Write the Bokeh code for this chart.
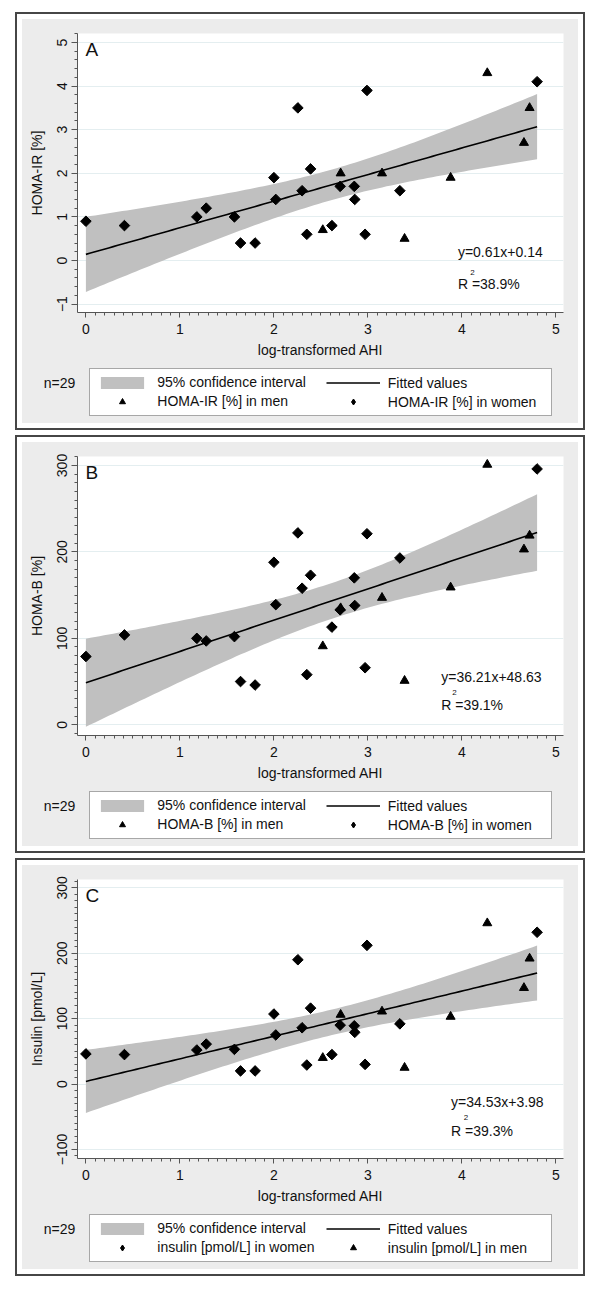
import numpy as np
from bokeh.plotting import figure
from bokeh.models import Range1d, SingleIntervalTicker, Legend, LegendItem, Label
from bokeh.layouts import column
from bokeh.embed import file_html
from bokeh.resources import INLINE

FONT = "Liberation Sans"

# ---------------- data ----------------
women_x = [0.00, 0.41, 1.18, 1.28, 1.58, 1.645, 1.80, 2.00, 2.02, 2.255, 2.30,
           2.35, 2.39, 2.617, 2.705, 2.855, 2.86, 2.97, 2.99, 3.34, 4.80]
men_x = [2.52, 2.71, 3.15, 3.39, 3.88, 4.27, 4.66, 4.72]

homa_ir_women = [0.9, 0.8, 1.0, 1.2, 1.0, 0.4, 0.4, 1.9, 1.4, 3.5, 1.6,
                 0.6, 2.1, 0.8, 1.7, 1.7, 1.4, 0.6, 3.9, 1.6, 4.1]
homa_ir_men = [0.7, 2.0, 2.0, 0.5, 1.9, 4.3, 2.7, 3.5]

homa_b_women = [79, 104, 100, 97, 102, 50, 46, 188, 139, 222, 158,
                58, 173, 113, 133, 170, 138, 66, 221, 193, 296]
homa_b_men = [91, 135, 147, 51, 159, 301, 203, 219]

insulin_women = [46, 45, 52, 61, 53, 20, 20, 107, 75, 190, 86,
                 29, 116, 45, 90, 89, 79, 30, 212, 92, 232]
insulin_men = [40, 106, 111, 25, 103, 246, 147, 192]

fit_slopes = [0.61, 36.21, 34.53]
fit_intercepts = [0.14, 48.63, 3.98]
r2_texts = ["38.9%", "39.1%", "39.3%"]
panel_letters = ["A", "B", "C"]
y_titles = ["HOMA-IR [%]", "HOMA-B [%]", "Insulin [pmol/L]"]
men_labels = ["HOMA-IR [%] in men", "HOMA-B [%] in men", "insulin [pmol/L] in men"]
women_labels = ["HOMA-IR [%] in women", "HOMA-B [%] in women", "insulin [pmol/L] in women"]
x_title = "log-transformed AHI"
n_text = "n=29"
T_CRIT = 2.052  # t(0.975, df=27)

# ---------------- layout ----------------
W, H_TOTAL = 556, 404
H_PLOT = 345
H_LEG = H_TOTAL - H_PLOT
BL, BR, BT = 55, 15, 14
FW, FH = W - BL - BR, 279
BB = H_PLOT - BT - FH
X_START, X_PPU = -0.0894, 94.0
Y_TOP = [5.206, 310.4, 312.7]
Y_PPU = [43.6, 0.8643, 0.654]
Y_TICK = [1, 100, 100]
Y_MINOR = [5, 10, 10]

# label offsets in px from frame top-left
EQ_POS = [(380.4, 218.4), (363.7, 220.7), (373.5, 222.3)]
R_POS = [(380.4, 250.7), (363.7, 248.0), (373.5, 251.7)]
SUP_POS = [(392.7, 239.4), (374.7, 235.7), (386.2, 238.3)]

TXT = "#111111"
AX = "#555555"
GREY = "#ececec"


def style_legend(lg):
    lg.orientation = "vertical"
    lg.glyph_width = 54
    lg.glyph_height = 15
    lg.label_height = 17
    lg.label_standoff = 8
    lg.spacing = 2
    lg.padding = 5
    lg.margin = 0
    lg.label_text_font = FONT
    lg.label_text_font_size = "14px"
    lg.label_text_color = TXT
    lg.label_text_baseline = "middle"


def make_panel(i, wy, my, women_first_in_legend):
    ppu = Y_PPU[i]
    y_end = Y_TOP[i]
    y_start = y_end - FH / ppu

    def dx(px):
        return X_START + px / X_PPU

    def dy(py):
        return y_end - py / ppu

    p = figure(width=W, height=H_PLOT, output_backend="svg", toolbar_location=None,
               x_range=Range1d(X_START, X_START + FW / X_PPU),
               y_range=Range1d(y_start, y_end),
               min_border_left=BL, min_border_right=BR,
               min_border_top=BT, min_border_bottom=BB)
    p.frame_align = False
    p.border_fill_color = GREY
    p.background_fill_color = "white"
    p.outline_line_color = None

    # axes
    p.xaxis.ticker = SingleIntervalTicker(interval=1, num_minor_ticks=10)
    p.yaxis.ticker = SingleIntervalTicker(interval=Y_TICK[i], num_minor_ticks=Y_MINOR[i])
    for ax in (p.xaxis[0], p.yaxis[0]):
        ax.axis_line_color = AX
        ax.major_tick_line_color = AX
        ax.minor_tick_line_color = AX
        ax.major_tick_in = 0
        ax.minor_tick_in = 0
        ax.minor_tick_out = 3
        ax.major_label_text_font = FONT
        ax.major_label_text_font_size = "14px"
        ax.major_label_text_color = TXT
        ax.axis_label_text_font = FONT
        ax.axis_label_text_font_size = "14px"
        ax.axis_label_text_font_style = "normal"
        ax.axis_label_text_color = TXT
    p.xaxis.major_tick_out = 5
    p.yaxis.major_tick_out = 6
    p.xaxis.major_label_standoff = 6
    p.yaxis.major_label_standoff = 4
    p.xaxis.axis_label_standoff = 5
    p.yaxis.axis_label_standoff = 10
    p.yaxis.major_label_orientation = "vertical"
    p.xaxis.axis_label = x_title
    p.yaxis.axis_label = y_titles[i]
    p.xgrid.visible = False
    p.ygrid.grid_line_color = "#e4eef0"
    p.ygrid.grid_line_width = 1

    # fit + CI
    slope, icpt = fit_slopes[i], fit_intercepts[i]
    xa = np.array(women_x + men_x, dtype=float)
    ya = np.array(wy + my, dtype=float)
    n = len(xa)
    resid = ya - (icpt + slope * xa)
    s = np.sqrt(np.sum(resid ** 2) / (n - 2))
    xbar = xa.mean()
    sxx = np.sum((xa - xbar) ** 2)
    xg = np.linspace(xa.min(), xa.max(), 100)
    yg = icpt + slope * xg
    se = s * np.sqrt(1.0 / n + (xg - xbar) ** 2 / sxx)
    band_style = dict(fill_color="#c0c0c0", fill_alpha=1.0)
    line_style = dict(line_color="black", line_width=1.6)
    tri_style = dict(marker="triangle", size=9, fill_color="black", line_color="black")
    dia_style = dict(marker="square", angle=np.pi / 4, size=7.5,
                     fill_color="black", line_color="black")
    dia_key_style = dict(marker="diamond", size=13, fill_color="black", line_color="black")
    p.varea(x=xg, y1=yg - T_CRIT * se, y2=yg + T_CRIT * se, **band_style)
    p.line(x=xg, y=yg, **line_style)
    p.scatter(x=men_x, y=my, **tri_style)
    p.scatter(x=women_x, y=wy, **dia_style)

    # texts inside the plot
    p.add_layout(Label(x=dx(8), y=dy(16), text=panel_letters[i], text_font=FONT,
                       text_font_size="19px", text_color=TXT, text_baseline="middle"))
    eq = "y=%.2fx+%.2f" % (slope, icpt)
    p.add_layout(Label(x=dx(EQ_POS[i][0]), y=dy(EQ_POS[i][1]), text=eq, text_font=FONT,
                       text_font_size="14px", text_color=TXT, text_baseline="middle"))
    p.add_layout(Label(x=dx(R_POS[i][0]), y=dy(R_POS[i][1]), text="R =" + r2_texts[i],
                       text_font=FONT, text_font_size="14px", text_color=TXT,
                       text_baseline="middle"))
    p.add_layout(Label(x=dx(SUP_POS[i][0]), y=dy(SUP_POS[i][1]), text="2", text_font=FONT,
                       text_font_size="8px", text_color=TXT, text_baseline="middle"))

    # ---- legend strip (separate figure below the plot) ----
    q = figure(width=W, height=H_LEG, output_backend="svg", toolbar_location=None,
               x_range=Range1d(0, W), y_range=Range1d(H_LEG, 0),
               x_axis_type=None, y_axis_type=None,
               min_border_left=0, min_border_right=0, min_border_top=0, min_border_bottom=0)
    q.frame_align = False
    q.border_fill_color = GREY
    q.background_fill_color = GREY
    q.outline_line_color = None
    q.grid.visible = False
    nan = [float("nan")]
    band_k = q.varea(x=nan, y1=nan, y2=nan, **band_style)
    line_k = q.line(x=nan, y=nan, **line_style)
    tri_k = q.scatter(x=nan, y=nan, **tri_style)
    dia_k = q.scatter(x=nan, y=nan, **dia_key_style)

    if women_first_in_legend:
        col1 = [LegendItem(label="95% confidence interval", renderers=[band_k]),
                LegendItem(label=women_labels[i], renderers=[dia_k])]
        col2 = [LegendItem(label="Fitted values", renderers=[line_k]),
                LegendItem(label=men_labels[i], renderers=[tri_k])]
    else:
        col1 = [LegendItem(label="95% confidence interval", renderers=[band_k]),
                LegendItem(label=men_labels[i], renderers=[tri_k])]
        col2 = [LegendItem(label="Fitted values", renderers=[line_k]),
                LegendItem(label=women_labels[i], renderers=[dia_k])]

    l1 = Legend(items=col1, location=(67.3, 7.4))
    style_legend(l1)
    l1.label_width = 461 - 10 - 54 - 8
    l1.border_line_color = "#505050"
    l1.border_line_width = 1
    l1.background_fill_color = "white"
    l1.background_fill_alpha = 1.0
    l2 = Legend(items=col2, location=(303.8, 12.6))
    style_legend(l2)
    l2.border_line_color = None
    l2.background_fill_alpha = 0.0
    q.add_layout(l1)
    q.add_layout(l2)
    q.add_layout(Label(x=21.3, y=18.7, text=n_text, text_font=FONT,
                       text_font_size="14px", text_color=TXT, text_baseline="middle"))

    return column(p, q, spacing=0,
                  styles={"box-shadow": "0 0 0 5px #ffffff, 0 0 0 7px #464646",
                          "background-color": GREY})


pA = make_panel(0, homa_ir_women, homa_ir_men, False)
pB = make_panel(1, homa_b_women, homa_b_men, False)
pC = make_panel(2, insulin_women, insulin_men, True)

layout = column(pA, pB, pC, spacing=19, margin=(19, 0, 0, 22))
open("out.html", "w").write(file_html(layout, INLINE))
